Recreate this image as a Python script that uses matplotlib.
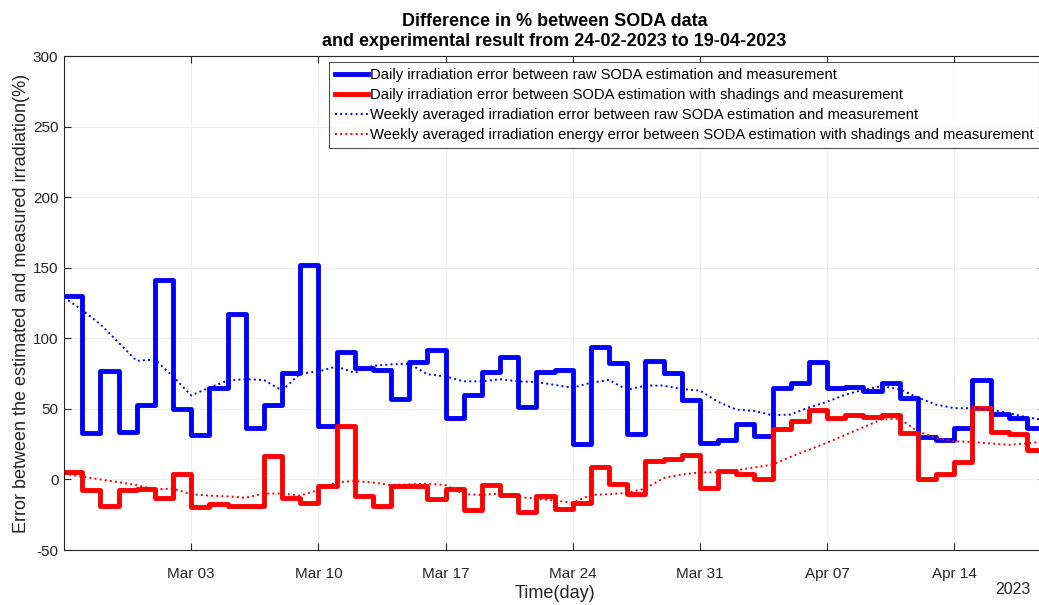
import numpy as np
import pandas as pd
import matplotlib
matplotlib.use("Agg")
from matplotlib import pyplot as plt
import matplotlib.dates as mdates


# daily errors (%), one value per day from 24-02-2023 to 18-04-2023
blue_daily = [130, 33, 77, 33.5, 53, 141, 50, 31.5, 65, 117.5, 36.5, 53, 75.5, 152,
              38, 90, 79, 77.5, 57, 83, 91.5, 43.5, 59.5, 76, 87, 51.5, 76, 77.5,
              25, 94, 82.5, 32, 84, 75.5, 56.5, 26, 28, 39.5, 30.5, 65, 68, 83,
              65, 65.5, 62.5, 68, 58, 30, 28, 36.5, 70.5, 46.5, 43.5, 36.5]
red_daily = [5, -7.5, -18.5, -7.5, -7, -13, 3.5, -19.5, -17.5, -18.5, -18.5, 16.5,
             -13, -16.5, -5, 38, -12, -18.5, -5, -4.5, -14, -7, -22, -4, -11, -23,
             -12, -21, -16.5, 8.5, -3, -10, 13, 14.5, 17.5, -6, 6, 3.5, 0.5, 36,
             41.5, 49.5, 43.5, 46, 44.5, 45.5, 33, 0.5, 4, 12, 50.5, 33.5, 32, 21]

# weekly averaged errors (%), from 24-02-2023 to 19-04-2023
blue_weekly = [129, 120, 110, 97, 84, 85, 73, 59.5, 65, 70, 71, 70.5, 63, 75, 76.5,
               80, 75.5, 80.5, 81.5, 82, 74.5, 73, 69.5, 69.5, 71, 69.5, 69, 67,
               65, 68.5, 70.5, 63.5, 66.5, 66.5, 64, 63, 55, 49.5, 48.5, 45.5, 46,
               51, 55, 60, 63.5, 66, 64, 58, 53, 50.5, 50.5, 49.5, 47, 44, 42]
red_weekly = [4, 2, 0, -2, -4, -7, -6.5, -10.5, -11.5, -12, -13, -10, -10, -11.5,
              -7.5, -2, -1.2, -2.2, -4, -3.5, -3, -4, -10.5, -11, -10, -12.5, -13.5,
              -15, -16.5, -11, -10.5, -9.5, -6.5, 1, 3.5, 5, 5, 6.5, 8.5, 10.5, 16,
              21, 26, 31.5, 37, 42.5, 43, 34, 29.5, 27, 26.5, 25.5, 24.5, 25.5, 27]

labels = ["Daily irradiation error between raw SODA estimation and measurement",
          "Daily irradiation error between SODA estimation with shadings and measurement",
          "Weekly averaged irradiation error between raw SODA estimation and measurement",
          "Weekly averaged irradiation energy error between SODA estimation with shadings and measurement"]

dates = pd.date_range("2023-02-24", "2023-04-19", freq="D")
xticks = pd.date_range("2023-03-03", periods=7, freq="7D")

plt.rcParams['font.family'] = ['Liberation Sans', 'DejaVu Sans']
plt.rcParams['axes.unicode_minus'] = False
axcol = '#262626'

fig = plt.figure(figsize=(10.39, 6.05), dpi=100)
ax = fig.add_axes([64 / 1039, 55 / 605, 981 / 1039, 494 / 605])

ax.step(dates, blue_daily + blue_daily[-1:], where='post', color='#0000ff', lw=3.5,
        label=labels[0])
ax.step(dates, red_daily + red_daily[-1:], where='post', color='#ff0000', lw=3.5,
        label=labels[1])
ax.plot(dates, blue_weekly, ':', color='#0000ff', lw=1.4, label=labels[2])
ax.plot(dates, red_weekly, ':', color='#ff0000', lw=1.4, label=labels[3])

ax.set_xlim(dates[0], dates[-1])
ax.set_ylim(-50, 300)
ax.set_yticks(np.arange(-50, 301, 50))
ax.set_xticks(xticks)
ax.xaxis.set_major_formatter(mdates.DateFormatter("%b %d"))
ax.tick_params(direction='in', length=5, top=True, right=True, labelsize=11,
               colors=axcol)
ax.tick_params(axis='x', pad=12)
ax.tick_params(axis='y', pad=4)
for s in ax.spines.values():
    s.set_color(axcol)
ax.grid(True, color='#efefef', lw=0.8)
ax.set_axisbelow(True)

ax.set_title("Difference in % between SODA data\nand experimental result from 24-02-2023 to 19-04-2023",
             fontsize=13, fontweight='bold', color='black', pad=7, linespacing=1.25)
ax.set_xlabel("Time(day)", fontsize=13, color=axcol, labelpad=3)
ax.set_ylabel("Error between the estimated and measured irradiation(%)", fontsize=13,
              color=axcol, labelpad=2)
fig.text(1030 / 1039, 1 - 590 / 605, "2023", ha='right', va='center', fontsize=11.5,
         color=axcol)

leg = ax.legend(loc='upper right', fontsize=10.6, frameon=True, fancybox=False,
                handlelength=2.25, handletextpad=0.1, labelspacing=0.42,
                borderpad=0.4, borderaxespad=0.4)
leg.get_frame().set_edgecolor(axcol)
leg.get_frame().set_linewidth(0.8)

fig.savefig("out.png", dpi=100)
